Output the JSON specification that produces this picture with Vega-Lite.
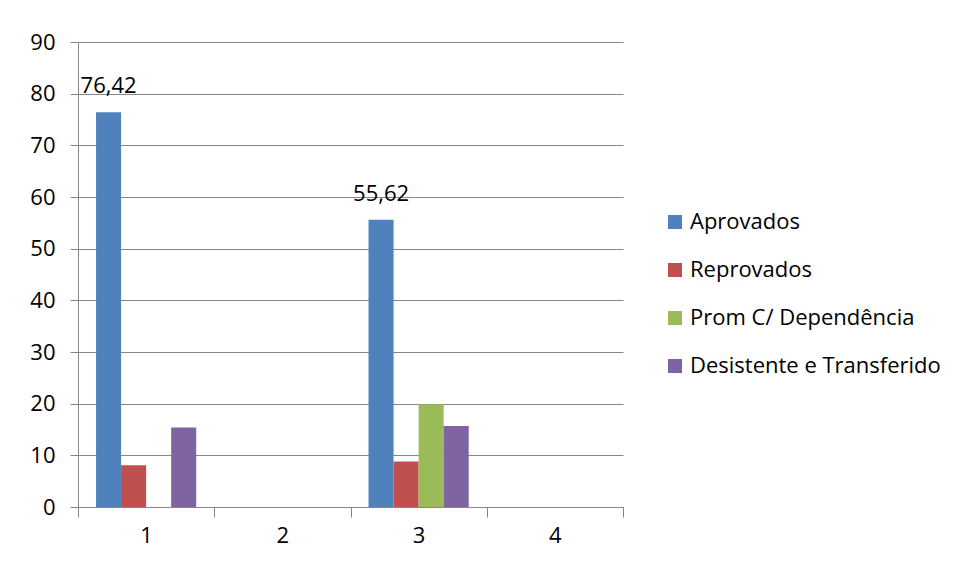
{
  "$schema": "https://vega.github.io/schema/vega-lite/v6.json",
  "width": 545,
  "height": 465,
  "autosize": "none",
  "padding": {"left": 78, "top": 42, "right": 341, "bottom": 59},
  "background": "white",
  "config": {
    "font": "Open Sans",
    "view": {"stroke": null},
    "locale": {"number": {"decimal": ",", "thousands": ".", "grouping": [3], "currency": ["", ""]}},
    "axis": {"labelFont": "Open Sans", "labelFontSize": 22, "labelColor": "#000000", "domainColor": "#878787", "tickColor": "#878787", "gridColor": "#878787"}
  },
  "data": {
    "values": [
      {"grupo": "1", "serie": "Aprovados", "valor": 76.42},
      {"grupo": "1", "serie": "Reprovados", "valor": 8.1},
      {"grupo": "1", "serie": "Desistente e Transferido", "valor": 15.4},
      {"grupo": "3", "serie": "Aprovados", "valor": 55.62},
      {"grupo": "3", "serie": "Reprovados", "valor": 8.8},
      {"grupo": "3", "serie": "Prom C/ Dependência", "valor": 19.9},
      {"grupo": "3", "serie": "Desistente e Transferido", "valor": 15.7}
    ]
  },
  "encoding": {
    "x": {
      "field": "grupo", "type": "nominal",
      "scale": {"domain": ["1", "2", "3", "4"], "paddingInner": 0, "paddingOuter": 0},
      "axis": {"title": null, "labelAngle": 0, "tickBand": "extent", "tickSize": 10, "labelPadding": 8, "grid": false, "domainWidth": 1}
    },
    "xOffset": {
      "field": "serie", "type": "nominal",
      "scale": {"domain": ["Aprovados", "Reprovados", "Prom C/ Dependência", "Desistente e Transferido"], "paddingInner": 0, "paddingOuter": 0.72}
    },
    "y": {
      "field": "valor", "type": "quantitative",
      "scale": {"domain": [0, 90], "nice": false},
      "axis": {"title": null, "values": [0, 10, 20, 30, 40, 50, 60, 70, 80, 90], "tickSize": 8, "labelPadding": 15, "grid": true, "gridWidth": 1}
    }
  },
  "layer": [
    {
      "mark": {"type": "bar"},
      "encoding": {
        "color": {
          "field": "serie", "type": "nominal",
          "scale": {"domain": ["Aprovados", "Reprovados", "Prom C/ Dependência", "Desistente e Transferido"], "range": ["#4F81BD", "#C0504D", "#9BBB59", "#8064A2"]},
          "legend": {
            "title": null, "orient": "none", "legendX": 586, "legendY": 169,
            "symbolType": "square", "symbolSize": 196, "symbolStrokeWidth": 0,
            "labelFont": "Open Sans", "labelFontSize": 22, "labelColor": "#000000",
            "labelOffset": 4, "rowPadding": 26, "padding": 0, "labelLimit": 400
          }
        }
      }
    },
    {
      "transform": [{"filter": "datum.serie === 'Aprovados'"}],
      "mark": {"type": "text", "baseline": "alphabetic", "align": "center", "dy": -19, "fontSize": 22, "font": "Open Sans", "color": "#000000"},
      "encoding": {
        "text": {"field": "valor", "type": "quantitative", "format": ".2f"}
      }
    }
  ]
}
